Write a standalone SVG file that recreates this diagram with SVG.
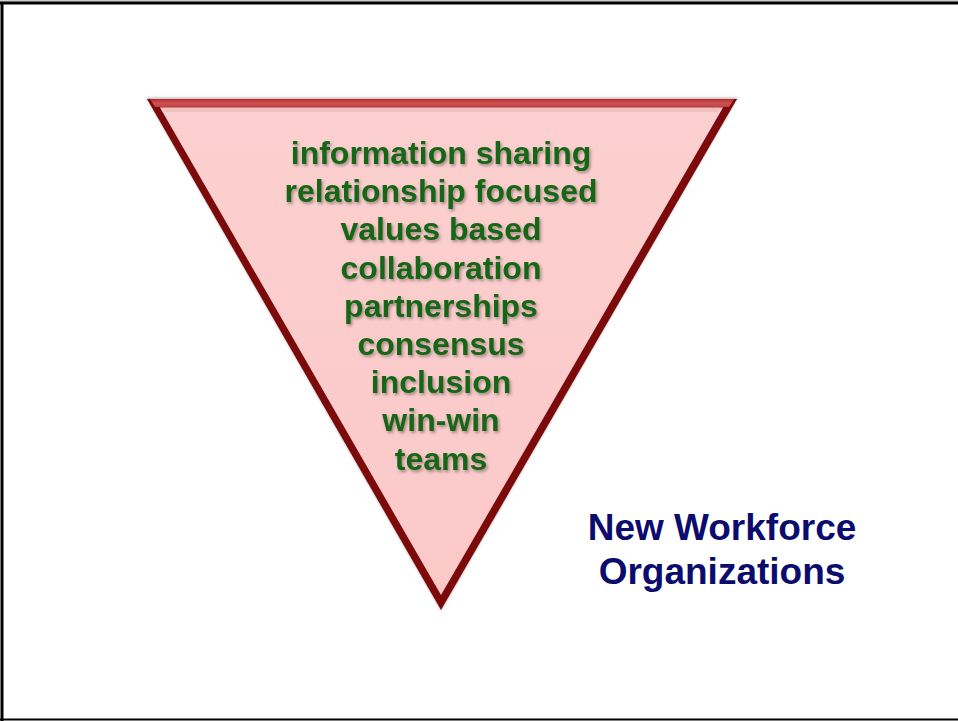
<svg xmlns="http://www.w3.org/2000/svg" width="958" height="721" viewBox="0 0 958 721">
  <style>
    .item { font-family: "Liberation Sans", Arial, sans-serif; font-weight: bold; font-size: 32px; fill: #166616; text-anchor: middle; }
    .title { font-family: "Liberation Sans", Arial, sans-serif; font-weight: bold; font-size: 37px; fill: #0c0c6e; text-anchor: middle; }
  </style>
  <defs>
    <filter id="textShadow" x="-10%" y="-30%" width="120%" height="160%">
      <feDropShadow dx="1.5" dy="2" stdDeviation="1.4" flood-color="#000" flood-opacity="0.35"/>
    </filter>
    <filter id="edgeShadow" x="-5%" y="-5%" width="110%" height="110%">
      <feGaussianBlur stdDeviation="1.2"/>
    </filter>
    <linearGradient id="pinkFill" x1="0" y1="0" x2="0" y2="1">
      <stop offset="0" stop-color="#fcd0d0"/>
      <stop offset="1" stop-color="#fbc8c8"/>
    </linearGradient>
    <linearGradient id="topBevel" x1="0" y1="0" x2="0" y2="1">
      <stop offset="0" stop-color="#b52a2a"/>
      <stop offset="0.5" stop-color="#cf5252"/>
      <stop offset="1" stop-color="#c04040"/>
    </linearGradient>
  </defs>

  <rect width="958" height="721" fill="#ffffff"/>

  <!-- page frame -->
  <g id="frame" fill="none">
    <line x1="0" y1="1" x2="958" y2="1" stroke="#9a9a9a" stroke-width="1"/>
    <line x1="0" y1="3" x2="958" y2="3" stroke="#000" stroke-width="3"/>
    <line x1="2" y1="2" x2="2" y2="721" stroke="#000" stroke-width="3"/>
    <line x1="0" y1="719.5" x2="958" y2="719.5" stroke="#000" stroke-width="2"/>
  </g>

  <!-- inverted triangle -->
  <g id="triangle">
    <polygon points="146,97.5 738,97.5 441,611" fill="#777" opacity="0.45" filter="url(#edgeShadow)"/>
    <polygon points="147,99 737,99 441,610" fill="#7c0a0a"/>
    <polygon points="150,99 734,99 729,107 155,107" fill="url(#topBevel)"/>
    <polygon points="160,107.5 723,107.5 441,595" fill="url(#pinkFill)"/>
    <polygon points="160,107.5 723,107.5 718,112 165,112" fill="#e8b0b0" opacity="0.5"/>
  </g>

  <!-- list of qualities -->
  <g id="qualities" filter="url(#textShadow)">
    <text class="item" x="441" y="164">information sharing</text>
    <text class="item" x="441" y="202">relationship focused</text>
    <text class="item" x="441" y="240">values based</text>
    <text class="item" x="441" y="278.5">collaboration</text>
    <text class="item" x="441" y="316.5">partnerships</text>
    <text class="item" x="441" y="355">consensus</text>
    <text class="item" x="441" y="393">inclusion</text>
    <text class="item" x="441" y="431">win-win</text>
    <text class="item" x="441" y="469.5">teams</text>
  </g>

  <!-- caption -->
  <g id="caption">
    <text class="title" x="722" y="540">New Workforce</text>
    <text class="title" x="722" y="584">Organizations</text>
  </g>
</svg>
